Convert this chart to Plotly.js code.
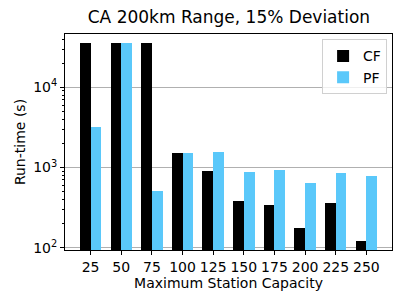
<!DOCTYPE html>
<html>
<head>
<meta charset="utf-8">
<script src="https://cdn.plot.ly/plotly-3.0.1.min.js"></script>
<style>html,body{margin:0;padding:0;background:#fff;}#chart{width:407px;height:305px;}</style>
</head>
<body>
<div id="chart"></div>
<script>
const capacities = ['25','50','75','100','125','150','175','200','225','250'];
const cfRuntime = [36000, 36000, 36000, 1517, 912, 382, 338, 176, 364, 122];
const pfRuntime = [3230, 36000, 509, 1517, 1560, 871, 923, 641, 847, 783];
const yTickVals = [100, 1000, 10000];
const yTickText = ['10<sup>2</sup>', '10<sup>3</sup>', '10<sup>4</sup>'];
const yMinorVals = [200,300,400,500,600,700,800,900,2000,3000,4000,5000,6000,7000,8000,9000,20000,30000,40000];

const idx = capacities.map((_, i) => i);
const font = {family: 'DejaVu Sans, sans-serif', color: '#000'};

const traces = [
  {type: 'bar', name: 'CF', x: idx, y: cfRuntime, width: 0.35, offset: -0.35,
   marker: {color: '#000000', line: {width: 0}}},
  {type: 'bar', name: 'PF', x: idx, y: pfRuntime, width: 0.35, offset: 0,
   marker: {color: '#5ac8fa', line: {width: 0}}}
];

const layout = {
  width: 407, height: 305,
  margin: {l: 65, r: 15, t: 34, b: 55},
  paper_bgcolor: '#fff', plot_bgcolor: '#fff',
  font: Object.assign({size: 14}, font),
  showlegend: true,
  title: {text: 'CA 200km Range, 15% Deviation', font: Object.assign({size: 17}, font),
          x: 0.5625, xanchor: 'center', y: 0.925, yanchor: 'bottom'},
  xaxis: {
    range: [-0.835, 9.835], tickvals: idx, ticktext: capacities,
    ticks: 'outside', ticklen: 4, tickcolor: '#000', showgrid: false, zeroline: false,
    showline: true, linecolor: '#000', linewidth: 1, mirror: true,
    tickfont: Object.assign({size: 14}, font),
    title: {text: 'Maximum Station Capacity', font: Object.assign({size: 14}, font), standoff: 2}
  },
  yaxis: {
    type: 'log', range: [1.971, 4.665],
    tickvals: yTickVals, ticktext: yTickText,
    ticks: 'outside', ticklen: 4, tickcolor: '#000',
    showgrid: true, gridcolor: '#b0b0b0', gridwidth: 1, zeroline: false,
    showline: true, linecolor: '#000', linewidth: 1, mirror: true,
    tickfont: Object.assign({size: 14}, font),
    minor: {tickvals: yMinorVals, ticks: 'outside', ticklen: 2, tickcolor: '#000', showgrid: false},
    title: {text: 'Run-time (s)', font: Object.assign({size: 14}, font), standoff: 4}
  },
  legend: {x: 0.985, y: 0.975, xanchor: 'right', yanchor: 'top',
    bgcolor: 'rgba(255,255,255,0.8)', bordercolor: '#d0d0d0', borderwidth: 1,
    font: Object.assign({size: 14}, font)},
  bargap: 0
};

Plotly.newPlot('chart', traces, layout, {staticPlot: true, displayModeBar: false});
</script>
</body>
</html>
